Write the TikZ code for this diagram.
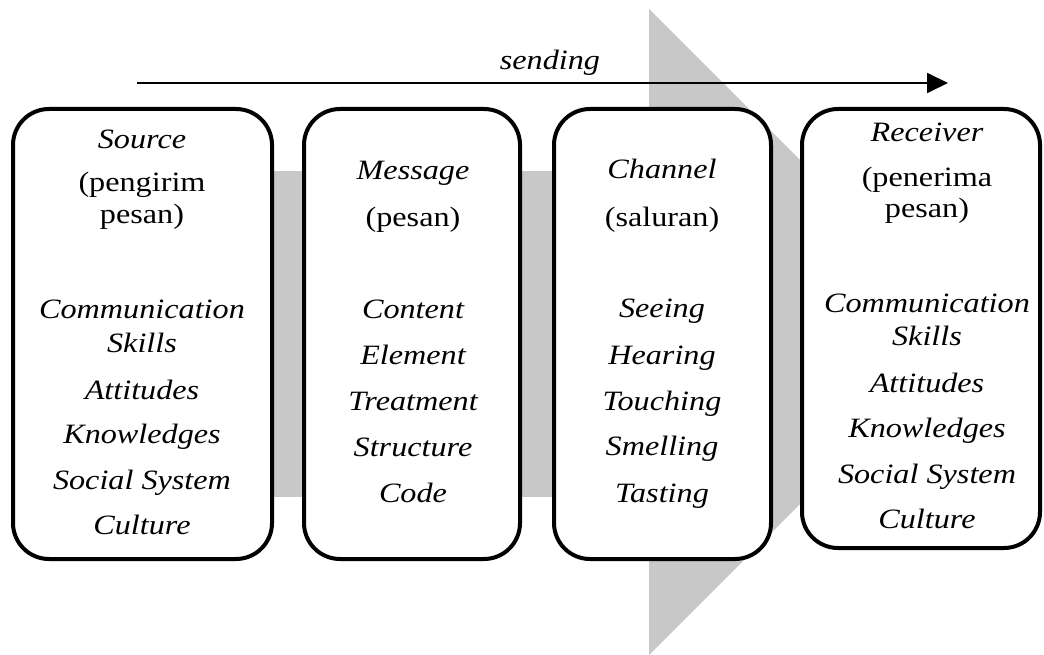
\documentclass[tikz,border=0pt]{standalone}
\usepackage{fontspec}
\setmainfont{Liberation Serif}[FakeStretch=1.15]
\usetikzlibrary{arrows.meta}
\definecolor{bandgray}{RGB}{200,200,200}
\begin{document}
\begin{tikzpicture}[x=1pt,y=-1pt,
  box/.style={draw=black, line width=4pt, fill=white, rounded corners=36pt,
    inner sep=0pt, outer sep=0pt},
  itl/.style={font=\fontsize{28}{30}\selectfont\itshape, inner sep=0pt, anchor=base},
  upr/.style={font=\fontsize{28}{30}\selectfont, inner sep=0pt, anchor=base},
  band/.style={fill=bandgray}]
\useasboundingbox (0,0) rectangle (1044,655);
% big gray arrow in the background
\fill[band] (200,171) rectangle (650,497);
\fill[band] (649,9) -- (972,332) -- (649,655) -- cycle;
% sending arrow
\coordinate (as) at (137,83);
\coordinate (ae) at (948,83);
\draw[line width=1.8pt, -{Triangle[length=21pt,width=20pt]}] (as) -- (ae);
\node[itl] (send) at (550,70) {sending};
% boxes
\node[box, minimum width=259pt, minimum height=450pt] (src) at (142.5,334) {};
\node[box, minimum width=216pt, minimum height=450pt] (msg) at (412,334) {};
\node[box, minimum width=217pt, minimum height=450pt] (chn) at (662.5,334) {};
\node[box, minimum width=238pt, minimum height=439pt] (rcv) at (921,328.5) {};
% source texts
\node[itl] (s1) at (142,149) {Source};
\node[upr] (s2) at (142,192) {(pengirim};
\node[upr] (s3) at (142,223) {pesan)};
\node[itl] (s4) at (142,318) {Communication};
\node[itl] (s5) at (142,352) {Skills};
\node[itl] (s6) at (142,399) {Attitudes};
\node[itl] (s7) at (142,443) {Knowledges};
\node[itl] (s8) at (142,489) {Social System};
\node[itl] (s9) at (142,534) {Culture};
% message texts
\node[itl] (m1) at (413,180) {Message};
\node[upr] (m2) at (413,226) {(pesan)};
\node[itl] (m3) at (413,318) {Content};
\node[itl] (m4) at (413,364) {Element};
\node[itl] (m5) at (413,410) {Treatment};
\node[itl] (m6) at (413,456) {Structure};
\node[itl] (m7) at (413,502) {Code};
% channel texts
\node[itl] (c1) at (662,179) {Channel};
\node[upr] (c2) at (662,226) {(saluran)};
\node[itl] (c3) at (662,317) {Seeing};
\node[itl] (c4) at (662,364) {Hearing};
\node[itl] (c5) at (662,410) {Touching};
\node[itl] (c6) at (662,455) {Smelling};
\node[itl] (c7) at (662,502) {Tasting};
% receiver texts
\node[itl] (r1) at (927,142) {Receiver};
\node[upr] (r2) at (927,187) {(penerima};
\node[upr] (r3) at (927,218) {pesan)};
\node[itl] (r4) at (927,312) {Communication};
\node[itl] (r5) at (927,345) {Skills};
\node[itl] (r6) at (927,392) {Attitudes};
\node[itl] (r7) at (927,437) {Knowledges};
\node[itl] (r8) at (927,483) {Social System};
\node[itl] (r9) at (927,528) {Culture};
\end{tikzpicture}
\end{document}
